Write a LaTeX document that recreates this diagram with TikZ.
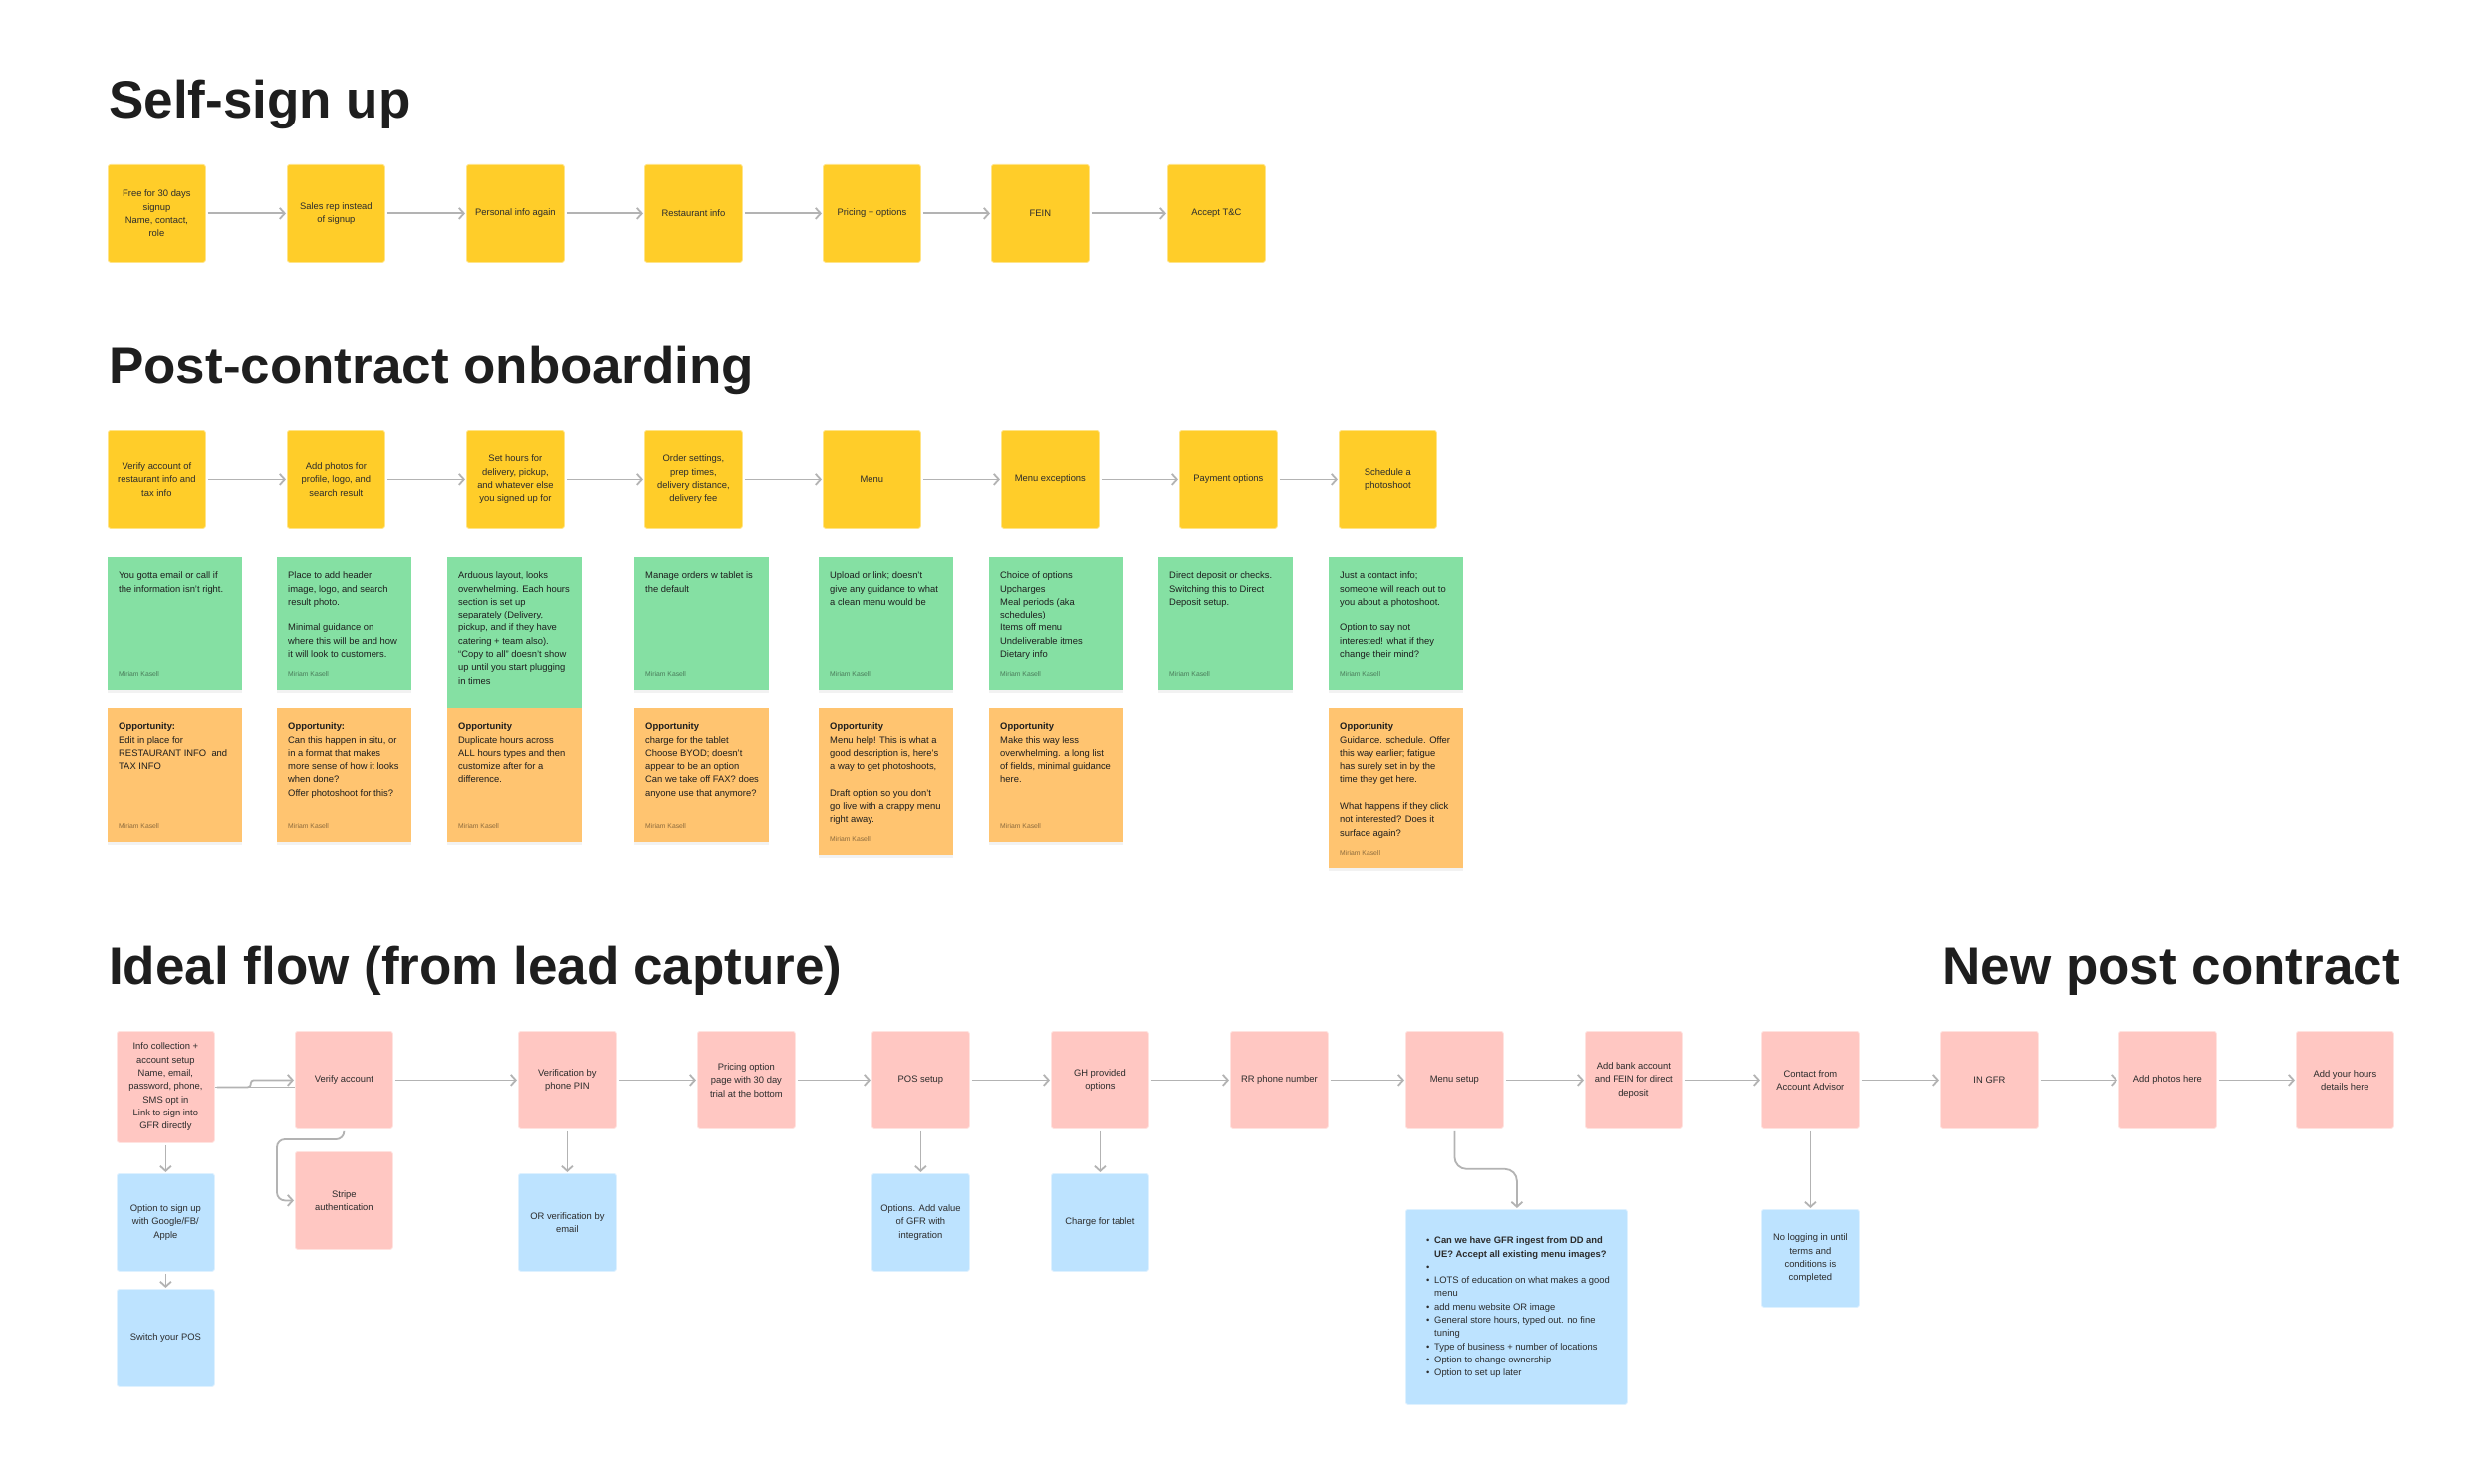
\documentclass[tikz,border=0pt]{standalone}
\usepackage{fontspec}
\setmainfont{Liberation Sans}
\usetikzlibrary{arrows.meta,shadows,calc}
\definecolor{yel}{HTML}{FFCD29}
\definecolor{grn}{HTML}{85E0A3}
\definecolor{org}{HTML}{FFC470}
\definecolor{pnk}{HTML}{FFC7C2}
\definecolor{blu}{HTML}{BDE3FF}
\definecolor{arr}{HTML}{B3B3B3}
\definecolor{ink}{HTML}{1E1E1E}
\definecolor{boxink}{HTML}{2C2C2C}
\newcommand\bodyfont{\fontsize{9.4}{13.3}\selectfont}
\newcommand\authfont{\fontsize{6.8}{8}\selectfont}
\newcommand\headfont{\fontsize{53}{60}\selectfont\bfseries}
\newcommand\bul{\makebox[8pt][l]{\textbullet}}
\newcommand\ind{\hspace*{8pt}}
\tikzset{
  flowbox/.style={anchor=north west, minimum width=98, minimum height=98, inner sep=2, align=center, rounded corners=2.5, font=\bodyfont, text=boxink, line width=0.8},
  ybox/.style={flowbox, fill=yel, draw=yel!55!white},
  pbox/.style={flowbox, fill=pnk, draw=pnk!50!white},
  bbox/.style={flowbox, fill=blu, draw=blu!50!white},
  stickynote/.style={anchor=north west, minimum width=135, inner sep=0, drop shadow={shadow xshift=0pt, shadow yshift=-2.5pt, opacity=0.10}},
  notetext/.style={anchor=north west, inner sep=0, align=left, font=\bodyfont, text=ink},
  author/.style={anchor=base west, inner sep=0, font=\authfont, text=black, text opacity=0.45},
  conn/.style={draw=arr, line width=1.8, -{Straight Barb[length=5pt,width=11pt]}, shorten <=2pt, shorten >=1pt},
  plainline/.style={draw=arr, line width=1.8},
  heading/.style={anchor=base west, inner sep=0, font=\headfont, text=ink},
}
% name, colour, x, y, height, text
\newcommand\sticky[6]{%
  \node[stickynote, fill=#2, minimum height=#5] (#1) at (#3,#4) {};
  \node[notetext] (#1t) at ([shift={(11,12.2)}]#1.north west) {\strut #6};
  \node[author] (#1a) at ([shift={(11,-13.5)}]#1.south west) {Miriam Kasell};
}
\begin{document}
\begin{tikzpicture}[x=1pt,y=-1pt]
\useasboundingbox[fill=white] (0,0) rectangle (2500,1490);

% headings
\node[heading] (h1) at (109,119) {Self-sign up};
\node[heading] (h2) at (109,385) {Post-contract onboarding};
\node[heading] (h3) at (109,988) {Ideal flow (from lead capture)};
\node[heading, anchor=base east] (h4) at (2410,988) {New post contract};

% self sign up
\node[ybox] (s1) at (108,165) {Free for 30 days\\signup\\Name, contact,\\role};
\node[ybox] (s2) at (288,165) {Sales rep instead\\of signup};
\node[ybox] (s3) at (468,165) {Personal info again};
\node[ybox] (s4) at (647,165) {Restaurant info};
\node[ybox] (s5) at (826,165) {Pricing + options};
\node[ybox] (s6) at (995,165) {FEIN};
\node[ybox] (s7) at (1172,165) {Accept T\&C};
\foreach \a/\b in {s1/s2,s2/s3,s3/s4,s4/s5,s5/s6,s6/s7}
  \draw[conn] (\a.east) -- (\b.west);

% post-contract onboarding
\node[ybox] (p1) at (108,432) {Verify account of\\restaurant info and\\tax info};
\node[ybox] (p2) at (288,432) {Add photos for\\profile, logo, and\\search result};
\node[ybox] (p3) at (468,432) {Set hours for\\delivery, pickup,\\and whatever else\\you signed up for};
\node[ybox] (p4) at (647,432) {Order settings,\\prep times,\\delivery distance,\\delivery fee};
\node[ybox] (p5) at (826,432) {Menu};
\node[ybox] (p6) at (1005,432) {Menu exceptions};
\node[ybox] (p7) at (1184,432) {Payment options};
\node[ybox] (p8) at (1344,432) {Schedule a\\photoshoot};
\foreach \a/\b in {p1/p2,p2/p3,p3/p4,p4/p5,p5/p6,p6/p7,p7/p8}
  \draw[conn] (\a.east) -- (\b.west);

% green notes
\sticky{g1}{grn}{108}{559}{134}{You gotta email or call if\\the information isn't right.}
\sticky{g2}{grn}{278}{559}{134}{Place to add header\\image, logo, and search\\result photo.\\[13.3pt]Minimal guidance on\\where this will be and how\\it will look to customers.}
\node[stickynote, fill=grn, minimum height=156] (g3) at (449,559) {};
\node[notetext] (g3t) at ([shift={(11,12.2)}]g3.north west) {\strut Arduous layout, looks\\overwhelming. Each hours\\section is set up\\separately (Delivery,\\pickup, and if they have\\catering + team also).\\“Copy to all” doesn't show\\up until you start plugging\\in times};
\sticky{g4}{grn}{637}{559}{134}{Manage orders w tablet is\\the default}
\sticky{g5}{grn}{822}{559}{134}{Upload or link; doesn't\\give any guidance to what\\a clean menu would be}
\sticky{g6}{grn}{993}{559}{134}{Choice of options\\Upcharges\\Meal periods (aka\\schedules)\\Items off menu\\Undeliverable itmes\\Dietary info}
\sticky{g7}{grn}{1163}{559}{134}{Direct deposit or checks.\\Switching this to Direct\\Deposit setup.}
\sticky{g8}{grn}{1334}{559}{134}{Just a contact info;\\someone will reach out to\\you about a photoshoot.\\[13.3pt]Option to say not\\interested! what if they\\change their mind?}

% orange notes
\sticky{o1}{org}{108}{711}{134}{\textbf{Opportunity:}\\Edit in place for\\RESTAURANT INFO\ \ and\\TAX INFO}
\sticky{o2}{org}{278}{711}{134}{\textbf{Opportunity:}\\Can this happen in situ, or\\in a format that makes\\more sense of how it looks\\when done?\\Offer photoshoot for this?}
\sticky{o3}{org}{449}{711}{134}{\textbf{Opportunity}\\Duplicate hours across\\ALL hours types and then\\customize after for a\\difference.}
\sticky{o4}{org}{637}{711}{134}{\textbf{Opportunity}\\charge for the tablet\\Choose BYOD; doesn't\\appear to be an option\\Can we take off FAX? does\\anyone use that anymore?}
\sticky{o5}{org}{822}{711}{147}{\textbf{Opportunity}\\Menu help! This is what a\\good description is, here's\\a way to get photoshoots,\\[13.3pt]Draft option so you don't\\go live with a crappy menu\\right away.}
\sticky{o6}{org}{993}{711}{134}{\textbf{Opportunity}\\Make this way less\\overwhelming. a long list\\of fields, minimal guidance\\here.}
\sticky{o8}{org}{1334}{711}{161}{\textbf{Opportunity}\\Guidance. schedule. Offer\\this way earlier; fatigue\\has surely set in by the\\time they get here.\\[13.3pt]What happens if they click\\not interested? Does it\\surface again?}

% ideal flow
\node[pbox, minimum height=112] (i1) at (117,1035) {Info collection +\\account setup\\Name, email,\\password, phone,\\SMS opt in\\Link to sign into\\GFR directly};
\node[pbox] (i2) at (296,1035) {Verify account};
\node[pbox] (stripe) at (296,1156) {Stripe\\authentication};
\node[pbox] (i3) at (520,1035) {Verification by\\phone PIN};
\node[pbox] (i4) at (700,1035) {Pricing option\\page with 30 day\\trial at the bottom};
\node[pbox] (i5) at (875,1035) {POS setup};
\node[pbox] (i6) at (1055,1035) {GH provided\\options};
\node[pbox] (i7) at (1235,1035) {RR phone number};
\node[pbox] (i8) at (1411,1035) {Menu setup};
\node[pbox] (i9) at (1591,1035) {Add bank account\\and FEIN for direct\\deposit};
\node[pbox] (i10) at (1768,1035) {Contact from\\Account Advisor};
\node[pbox] (i11) at (1948,1035) {IN GFR};
\node[pbox] (i12) at (2127,1035) {Add photos here};
\node[pbox] (i13) at (2305,1035) {Add your hours\\details here};

\node[bbox] (b1) at (117,1178) {Option to sign up\\with Google/FB/\\Apple};
\node[bbox] (b2) at (117,1294) {Switch your POS};
\node[bbox] (b3) at (520,1178) {OR verification by\\email};
\node[bbox] (b4) at (875,1178) {Options. Add value\\of GFR with\\integration};
\node[bbox] (b5) at (1055,1178) {Charge for tablet};
\node[bbox, minimum width=223, minimum height=196] (b6) at (1411,1214) {};
\node[notetext, text=boxink] (b6t) at (1432,1239.2) {\strut\bul\textbf{Can we have GFR ingest from DD and}\\
\ind\textbf{UE? Accept all existing menu images?}\\
\bul\\
\bul LOTS of education on what makes a good\\
\ind menu\\
\bul add menu website OR image\\
\bul General store hours, typed out. no fine\\
\ind tuning\\
\bul Type of business + number of locations\\
\bul Option to change ownership\\
\bul Option to set up later};
\node[bbox] (b7) at (1768,1214) {No logging in until\\terms and\\conditions is\\completed};

% connectors ideal flow
\draw[plainline] (i1.east) -- (i1.east -| i2.west);
\draw[conn, rounded corners=3] (i1.east) -- ++(36,0) |- (i2.west);
\foreach \a/\b in {i2/i3,i3/i4,i4/i5,i5/i6,i6/i7,i7/i8,i8/i9,i9/i10,i10/i11,i11/i12,i12/i13}
  \draw[conn] (\a.east) -- (\b.west);
\coordinate (sbend) at (278,1144);
\draw[conn, rounded corners=8] (i2.south) -- (i2.south |- sbend) -- (sbend) |- (stripe.west);
\draw[conn] (i1.south) -- (b1.north);
\draw[conn] (b1.south) -- (b2.north);
\draw[conn] (i3.south) -- (b3.north);
\draw[conn] (i5.south) -- (b4.north);
\draw[conn] (i6.south) -- (b5.north);
\draw[conn, rounded corners=12] (i8.south) -- ++(0,40) -| (b6.north);
\draw[conn] (i10.south) -- (b7.north);
\end{tikzpicture}
\end{document}
